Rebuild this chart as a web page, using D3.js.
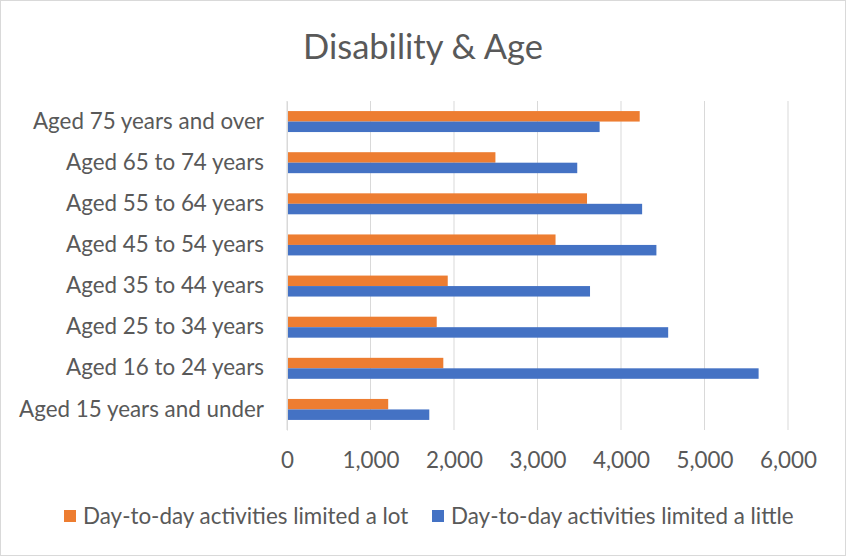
<!DOCTYPE html>
<html>
<head>
<meta charset="utf-8">
<script src="https://cdn.jsdelivr.net/npm/d3@7"></script>
<style>
  body { margin: 0; background: #fff; }
  text { font-family: Lato, "Open Sans", sans-serif; fill: #595959; }
</style>
</head>
<body>
<div id="container"></div>
<script>
const width = 846;
const height = 556;
const marginTop = 101;
const marginBottom = 126;
const marginLeft = 287;
const marginRight = 58;
const labelSize = "22.4px";

// data, bottom category first as in the source sheet
const categories = [
  "Aged 15 years and under",
  "Aged 16 to 24 years",
  "Aged 25 to 34 years",
  "Aged 35 to 44 years",
  "Aged 45 to 54 years",
  "Aged 55 to 64 years",
  "Aged 65 to 74 years",
  "Aged 75 years and over"
];
const seriesNames = ["Day-to-day activities limited a lot", "Day-to-day activities limited a little"];
const limitedLot = [1212, 1872, 1793, 1925, 3216, 3593, 2496, 4224];
const limitedLittle = [1704, 5648, 4565, 3629, 4424, 4253, 3476, 3744];
const xTicks = [0, 1000, 2000, 3000, 4000, 5000, 6000];
const colors = ["#ED7D31", "#4472C4"];

const rows = categories.map((c, i) => ({ cat: c, values: [limitedLot[i], limitedLittle[i]] }));

const svg = d3.create("svg")
    .attr("width", width)
    .attr("height", height);

// chart border
svg.append("rect")
    .attr("x", 0.5).attr("y", 0.5)
    .attr("width", width - 1).attr("height", height - 1)
    .attr("fill", "#fff")
    .attr("stroke", "#D9D9D9");

const x = d3.scaleLinear()
    .domain([0, 6000])
    .range([marginLeft, width - marginRight]);

// top of chart = last category
const y = d3.scaleBand()
    .domain(categories.slice().reverse())
    .range([marginTop, height - marginBottom])
    .paddingInner(0.49)
    .paddingOuter(0.245);

const ySub = d3.scaleBand()
    .domain([0, 1])
    .range([0, y.bandwidth()]);

// gridlines
svg.append("g")
    .selectAll("line")
    .data(xTicks)
    .join("line")
    .attr("x1", d => x(d)).attr("x2", d => x(d))
    .attr("y1", marginTop).attr("y2", height - marginBottom)
    .attr("stroke", "#D9D9D9")
    .attr("stroke-width", 1);

// bars
svg.append("g")
    .selectAll("g")
    .data(rows)
    .join("g")
    .attr("transform", d => `translate(0,${y(d.cat)})`)
    .selectAll("rect")
    .data(d => d.values)
    .join("rect")
    .attr("x", x(0))
    .attr("y", (d, i) => ySub(i))
    .attr("width", d => x(d) - x(0))
    .attr("height", ySub.bandwidth())
    .attr("fill", (d, i) => colors[i]);

// x axis labels
const xAxis = svg.append("g")
    .attr("transform", `translate(0,${height - marginBottom})`)
    .call(d3.axisBottom(x).tickValues(xTicks).tickFormat(d3.format(",")).tickSize(0).tickPadding(22));
xAxis.select(".domain").remove();
xAxis.selectAll("text")
    .style("font-size", labelSize)
    .attr("fill", "#595959");

// y axis labels
const yAxis = svg.append("g")
    .attr("transform", `translate(${marginLeft},0)`)
    .call(d3.axisLeft(y).tickSize(0).tickPadding(23));
yAxis.select(".domain").attr("stroke", "#D9D9D9");
yAxis.selectAll("text")
    .style("font-size", labelSize)
    .attr("fill", "#595959");

// title
svg.append("text")
    .attr("x", 423)
    .attr("y", 59)
    .attr("text-anchor", "middle")
    .style("font-size", "34.5px")
    .text("Disability & Age");

// legend
const legend = svg.append("g")
    .attr("transform", `translate(0,516)`);
const legendX = [64, 432];
const item = legend.selectAll("g")
    .data(seriesNames)
    .join("g")
    .attr("transform", (d, i) => `translate(${legendX[i]},0)`);
item.append("rect")
    .attr("x", 0).attr("y", -6)
    .attr("width", 12).attr("height", 12)
    .attr("fill", (d, i) => colors[i]);
item.append("text")
    .attr("x", 19)
    .attr("dy", "0.35em")
    .style("font-size", labelSize)
    .text(d => d);

d3.select("#container").append(() => svg.node());
</script>
</body>
</html>
